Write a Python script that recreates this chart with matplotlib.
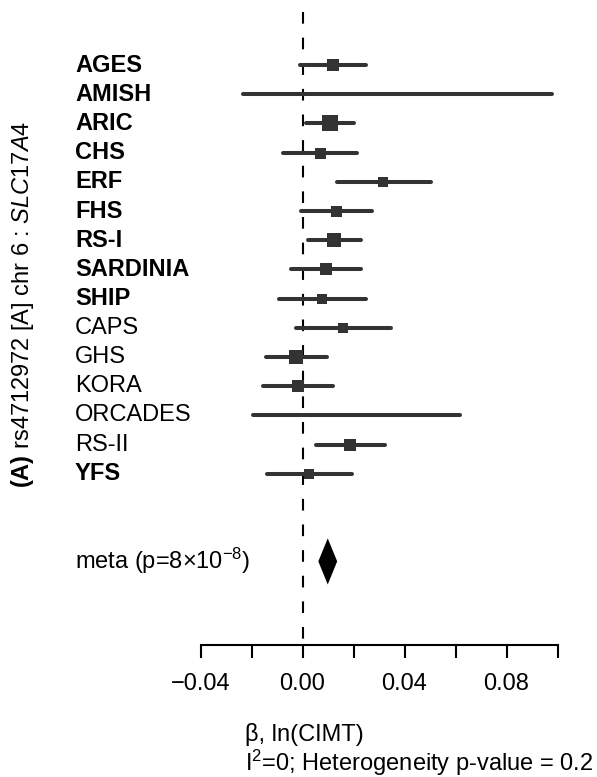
import matplotlib
matplotlib.use("Agg")
import matplotlib.pyplot as plt
from matplotlib.transforms import blended_transform_factory

plt.rcParams['font.family'] = ['Liberation Sans', 'DejaVu Sans']
plt.rcParams['mathtext.fontset'] = 'custom'
plt.rcParams['mathtext.rm'] = 'Liberation Sans'
plt.rcParams['mathtext.it'] = 'Liberation Sans:italic'
plt.rcParams['mathtext.bf'] = 'Liberation Sans:bold'

studies = ["AGES", "AMISH", "ARIC", "CHS", "ERF", "FHS", "RS-I", "SARDINIA",
           "SHIP", "CAPS", "GHS", "KORA", "ORCADES", "RS-II", "YFS"]
bold = [True, True, True, True, True, True, True, True,
        True, False, False, False, False, False, True]
beta = [0.0121, 0.0376, 0.0108, 0.0069, 0.0317, 0.0131, 0.0124, 0.0091,
        0.0078, 0.0160, -0.0025, -0.0016, 0.0212, 0.0186, 0.0025]
ci_low = [-0.0010, -0.0233, 0.0014, -0.0075, 0.0134, -0.0007, 0.0022, -0.0046,
          -0.0091, -0.0025, -0.0144, -0.0154, -0.0193, 0.0052, -0.0140]
ci_high = [0.0250, 0.0977, 0.0202, 0.0212, 0.0504, 0.0273, 0.0228, 0.0228,
           0.0249, 0.0347, 0.0095, 0.0121, 0.0618, 0.0324, 0.0193]
weight = [12, 3, 16, 11, 9.3, 11, 14.3, 11.3, 9.7, 9.3, 13.3, 11.3, 3, 11.7, 9.7]

meta_beta = 0.0099
meta_low = 0.0062
meta_high = 0.0136

xticks = [-0.04, -0.02, 0.00, 0.02, 0.04, 0.06, 0.08, 0.10]
xticklabels = ["\u22120.04", "", "0.00", "", "0.04", "", "0.08", ""]

W, H = 597, 777
fig = plt.figure(figsize=(W / 100, H / 100), dpi=100)

# axes: x pixel 190..580, full height; rows 29.2 px apart, first row at y=65 px
x0_px, px_per_unit = 302.5, 2550.0
row_px, first_px = 29.2, 65.0
ax = fig.add_axes([190 / W, 0, 390 / W, 1])
ax.set_xlim((190 - x0_px) / px_per_unit, (580 - x0_px) / px_per_unit)
ax.set_ylim((H - first_px) / row_px, -first_px / row_px)

rows = list(range(len(studies)))
meta_row = 17
axis_row = (645 - first_px) / row_px

col = "#333333"
for i in rows:
    ax.plot([ci_low[i], ci_high[i]], [i, i], color=col, lw=2.9,
            solid_capstyle="round", zorder=3)
    ax.plot(beta[i], i, marker="s", color=col, markersize=weight[i] * 0.72,
            markeredgewidth=0, zorder=4)

# meta diamond
hh = 0.79
ax.fill([meta_low, meta_beta, meta_high, meta_beta],
        [meta_row, meta_row - hh, meta_row, meta_row + hh],
        color="black", lw=0, zorder=4)

# null line
ax.plot([0, 0], [-1.82, axis_row], color="black", lw=1.5,
        dashes=(5.6, 6.7), zorder=2)

# x axis
for s in ["top", "right", "left"]:
    ax.spines[s].set_visible(False)
ax.spines["bottom"].set_position(("data", axis_row))
ax.spines["bottom"].set_bounds(-0.04, 0.10)
ax.spines["bottom"].set_linewidth(1.5)
ax.set_yticks([])
ax.set_xticks(xticks)
ax.set_xticklabels(xticklabels, fontsize=17)
ax.tick_params(axis="x", direction="out", length=9.5, width=1.5, pad=11)

# study labels
tr = blended_transform_factory(fig.transFigure, ax.transData)
for i in rows:
    ax.text(75 / W, i, studies[i], transform=tr, fontsize=17, va="center",
            ha="left", fontweight="bold" if bold[i] else "normal")
ax.text(75 / W, meta_row, r"meta (p=8$\times$10$^{\mathrm{-8}}$)", transform=tr,
        fontsize=17, va="center", ha="left")

# rotated y label
fig.text(23 / W, 1 - 304 / H,
         r"$\mathbf{(A)}$ rs4712972 [A] chr 6 : $\mathit{SLC17A4}$",
         rotation=90, fontsize=17, va="center", ha="center")

# x label lines
fig.text(245 / W, 1 - 735 / H, "\u03b2, ln(CIMT)", fontsize=17,
         va="center", ha="left")
fig.text(245 / W, 1 - 763 / H, r"I$^{2}$=0; Heterogeneity p-value = 0.2",
         fontsize=17, va="center", ha="left")

fig.savefig("out.png", dpi=100)
